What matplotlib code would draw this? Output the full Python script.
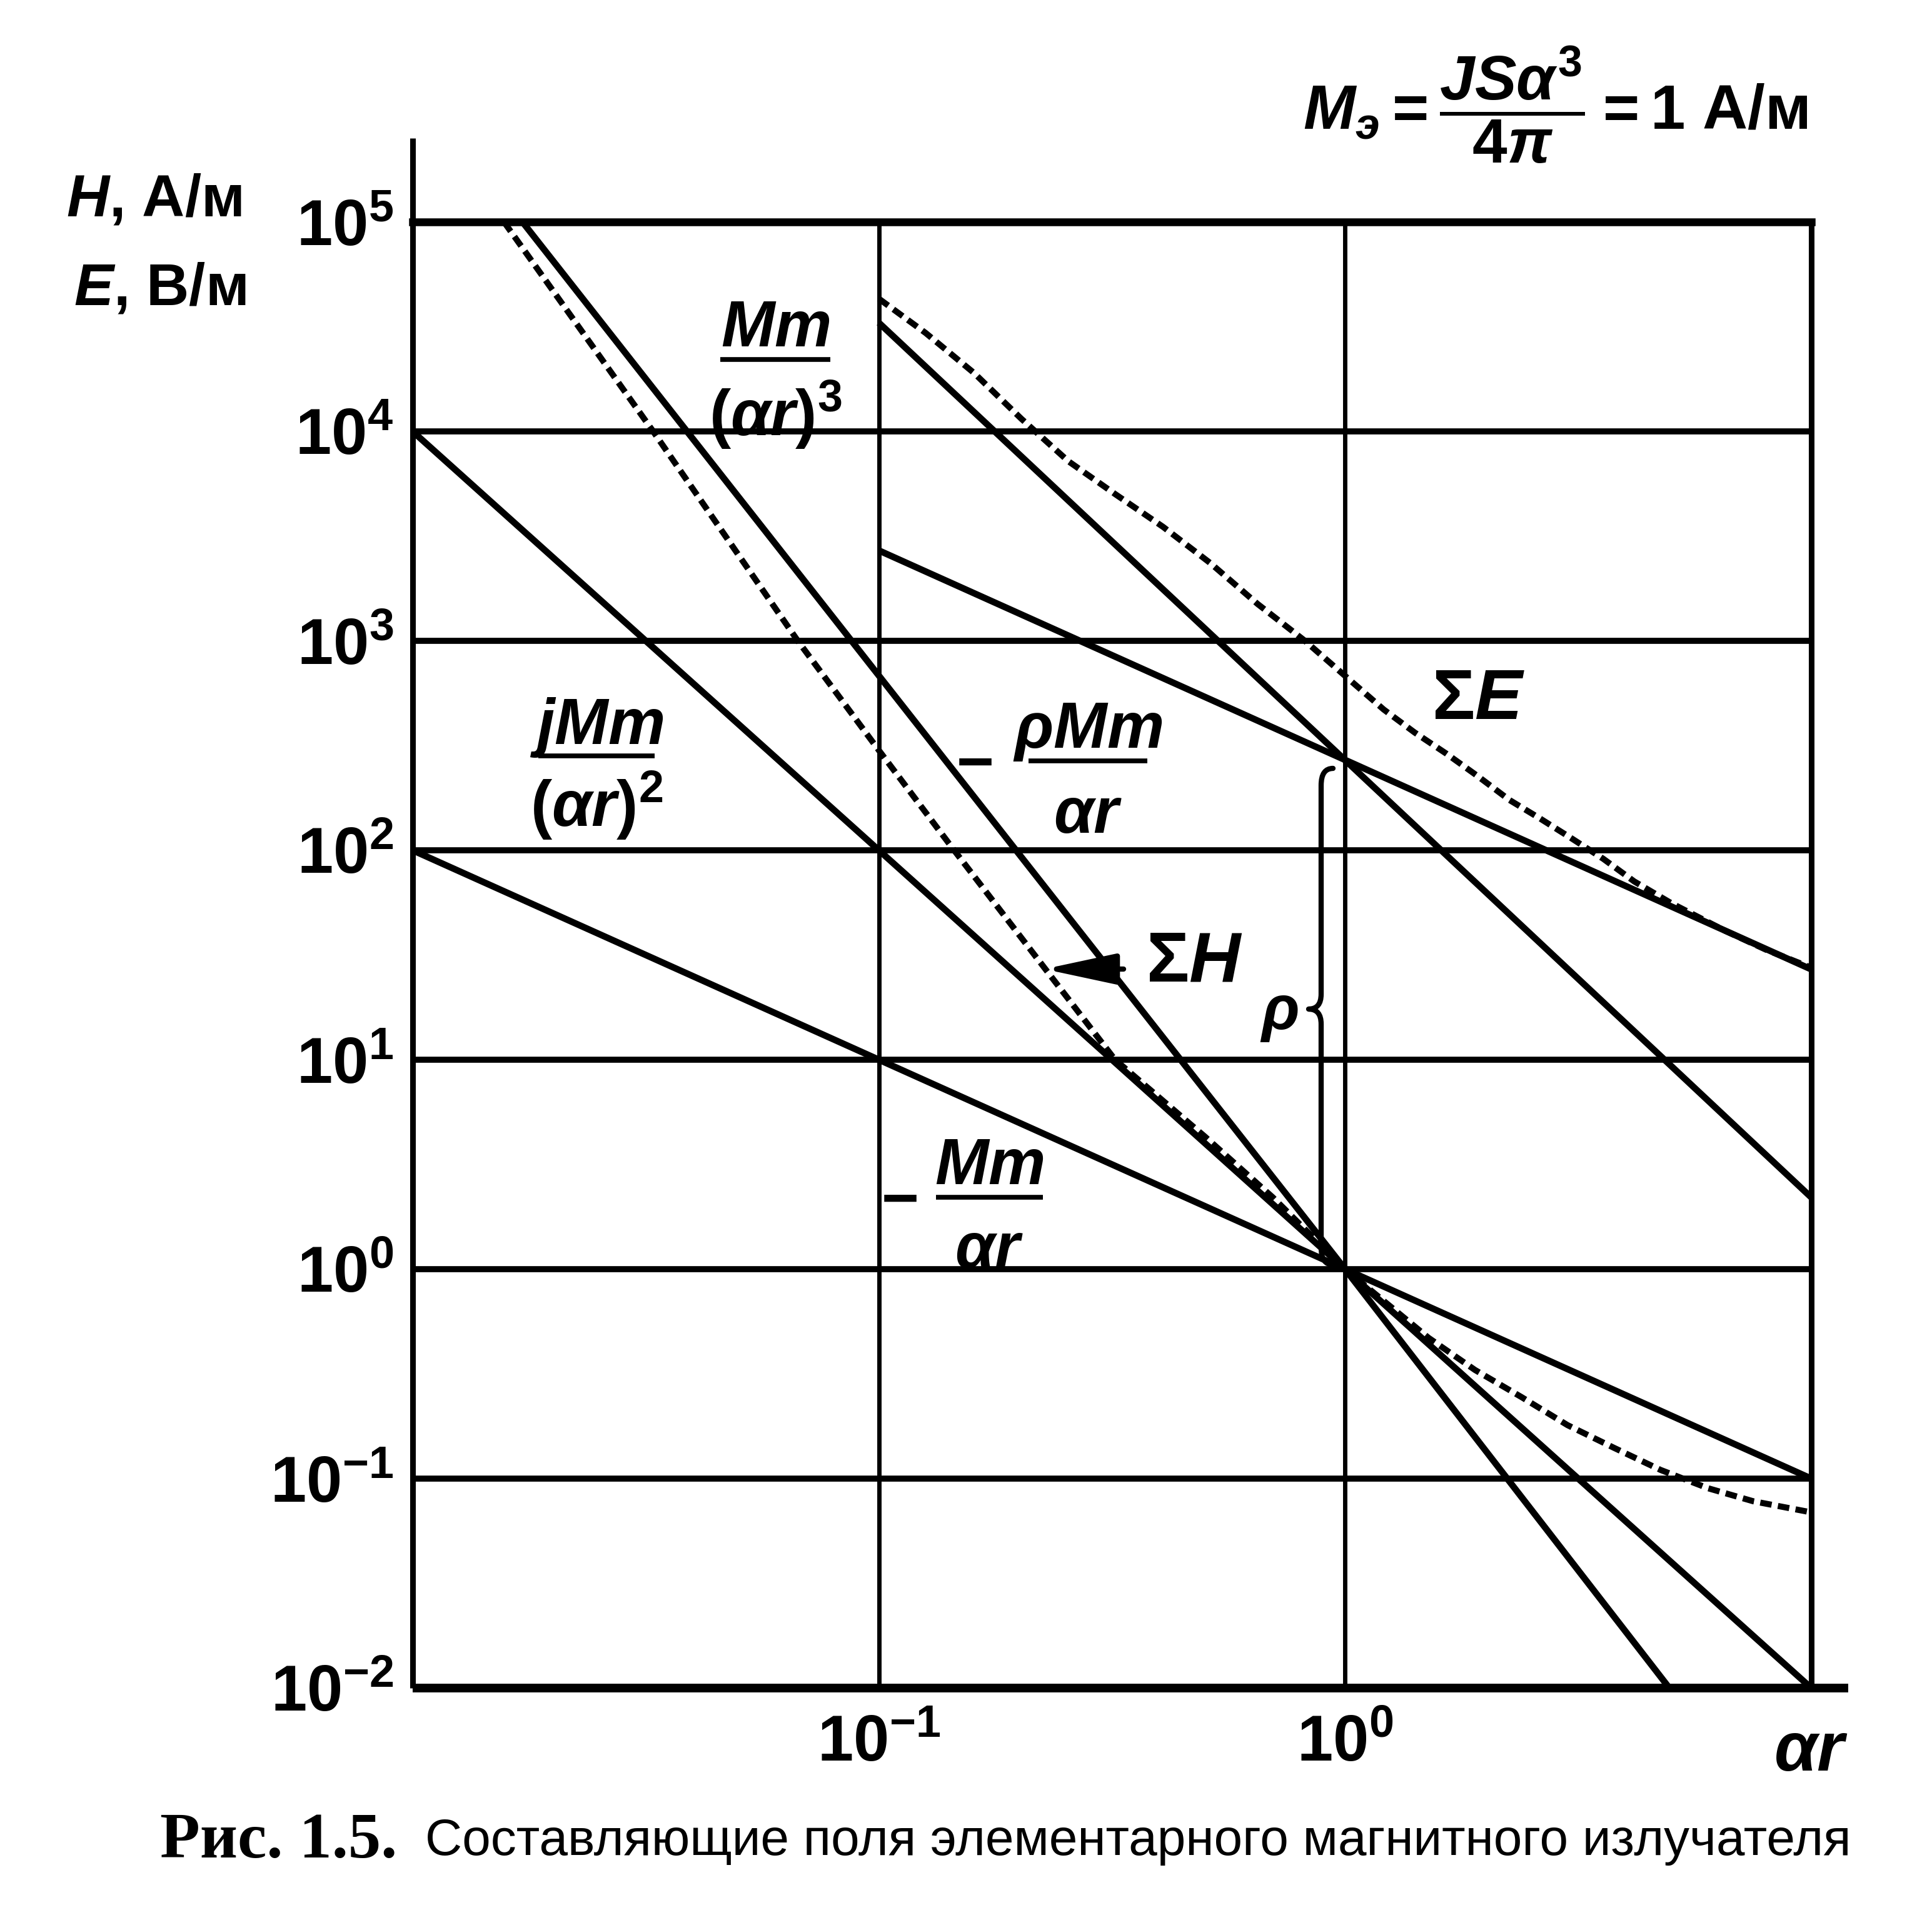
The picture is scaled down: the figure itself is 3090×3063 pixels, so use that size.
import matplotlib
matplotlib.use("Agg")
import matplotlib.pyplot as plt
from matplotlib import font_manager
from matplotlib.transforms import Affine2D
from matplotlib.lines import Line2D
from matplotlib.path import Path
from matplotlib.patches import PathPatch

# ---------------- data ----------------
X_LIMITS = [0.01, 10]
Y_LIMITS = [0.01, 1e5]
X_TICKS = [0.1, 1]
X_TICK_LABELS = [r"$10^{-1}$", r"$10^{0}$"]
Y_TICKS = [1e-2, 1e-1, 1e0, 1e1, 1e2, 1e3, 1e4, 1e5]
Y_TICK_LABELS = [r"$10^{-2}$", r"$10^{-1}$", r"$10^{0}$", r"$10^{1}$",
                 r"$10^{2}$", r"$10^{3}$", r"$10^{4}$", r"$10^{5}$"]

# magnetic field components
H1_X = [0.01, 10]            # -Mm/(ar)
H1_Y = [100, 0.1]
H2_X = [0.01, 10]            # jMm/(ar)^2
H2_Y = [1e4, 0.01]
H3_X = [0.0172, 1, 4.96]     # Mm/(ar)^3
H3_Y = [1e5, 1, 0.01]
SUMH_X = [0.0157, 0.0328, 0.067, 0.1, 0.145, 0.321, 0.5, 0.7, 1.0,
          1.51, 1.90, 2.39, 3.0, 3.78, 4.75, 6.0, 7.5, 10]
SUMH_Y = [1e5, 1e4, 1e3, 300, 100, 10, 4.3, 2.2, 1.0,
          0.47, 0.33, 0.245, 0.18, 0.14, 0.11, 0.09, 0.078, 0.069]

# electric field components
E1_X = [0.1, 10]             # -rho Mm/(ar)
E1_Y = [2700, 27]
E2_X = [0.1, 10]             # rho Mm/(ar)^2
E2_Y = [3.3e4, 2.2]
SUME_X = [0.1, 0.126, 0.160, 0.202, 0.255, 0.322, 0.407, 0.514, 0.649, 0.82,
          1.0, 1.21, 1.41, 1.65, 1.93, 2.25, 2.63, 3.06, 3.58, 4.17, 5.0,
          6.5, 8.0, 10]
SUME_Y = [4.3e4, 2.95e4, 1.9e4, 1.15e4, 7.2e3, 5.0e3, 3.5e3, 2.35e3, 1.5e3,
          1.0e3, 680, 470, 365, 289, 225, 174, 141, 114, 91, 71, 56,
          41.5, 33.5, 27.5]

# ---------------- fonts ----------------
names = {f.name for f in font_manager.fontManager.ttflist}
if "Liberation Sans Narrow" in names:
    FONT = "Liberation Sans Narrow"
elif "Liberation Sans" in names:
    FONT = "Liberation Sans"
else:
    FONT = "DejaVu Sans"

plt.rcParams["font.family"] = [FONT, "DejaVu Sans"]
plt.rcParams["font.weight"] = "bold"
plt.rcParams["mathtext.fontset"] = "custom"
plt.rcParams["mathtext.rm"] = f"{FONT}:bold"
plt.rcParams["mathtext.it"] = f"{FONT}:italic:bold"
plt.rcParams["mathtext.bf"] = f"{FONT}:bold"
plt.rcParams["mathtext.sf"] = f"{FONT}:bold"

W, H = 3090, 3063
fig = plt.figure(figsize=(W / 100, H / 100), dpi=100)
# pixel coordinates measured from the top-left corner of the image
PX = Affine2D().scale(1 / W, -1 / H).translate(0, 1) + fig.transFigure

L, R, T, B = 660, 2897, 355, 2700
ax = fig.add_axes([L / W, 1 - B / H, (R - L) / W, (B - T) / H])
ax.set_xscale("log")
ax.set_yscale("log")
ax.set_xlim(*X_LIMITS)
ax.set_ylim(*Y_LIMITS)
ax.minorticks_off()
ax.set_xticks(X_TICKS)
ax.set_xticklabels(X_TICK_LABELS)
ax.set_yticks(Y_TICKS)
ax.set_yticklabels(Y_TICK_LABELS)
ax.tick_params(axis="both", length=0, labelsize=74)
ax.tick_params(axis="x", pad=30)
ax.tick_params(axis="y", pad=22)
for s in ax.spines.values():
    s.set_visible(False)
ax.set_axisbelow(True)
ax.xaxis.grid(True, color="k", lw=5.0)
ax.yaxis.grid(True, color="k", lw=7.0)

# frame (left spine extended upward, bottom extended to the right)
ax.plot([X_LIMITS[0], X_LIMITS[0]], [Y_LIMITS[0], 10 ** 5.4], color="k",
        lw=6.5, clip_on=False, solid_capstyle="butt")
ax.plot([X_LIMITS[0], 12], [Y_LIMITS[0], Y_LIMITS[0]], color="k",
        lw=10, clip_on=False, solid_capstyle="butt")
ax.plot([X_LIMITS[0], X_LIMITS[1]], [Y_LIMITS[1], Y_LIMITS[1]], color="k",
        lw=9, clip_on=False, solid_capstyle="projecting")
ax.plot([X_LIMITS[1], X_LIMITS[1]], [Y_LIMITS[0], Y_LIMITS[1]], color="k",
        lw=6.5, clip_on=False, solid_capstyle="projecting")

solid = dict(color="k", lw=7.5, solid_capstyle="butt", zorder=3)
dashed = dict(color="k", lw=7, ls=(0, (1.9, 1.05)), dash_capstyle="butt", zorder=3)
ax.plot(H1_X, H1_Y, **solid)
ax.plot(H2_X, H2_Y, **solid)
ax.plot(H3_X, H3_Y, **solid)
ax.plot(SUMH_X, SUMH_Y, **dashed)
ax.plot(E1_X, E1_Y, **solid)
ax.plot(E2_X, E2_Y, **solid)
ax.plot(SUME_X, SUME_Y, **dashed)

# ---------------- curve labels (built as stacked fractions) ----------------
LBL = 74


def frac(cx, cy, num, den, width, num_gap, den_gap, minus=None):
    fig.text(cx, cy - num_gap, num, transform=PX, ha="center", va="baseline",
             fontsize=LBL)
    fig.text(cx, cy + den_gap, den, transform=PX, ha="center", va="top",
             fontsize=LBL)
    fig.add_artist(Line2D([cx - width / 2, cx + width / 2], [cy, cy],
                          transform=PX, color="k", lw=5.5,
                          solid_capstyle="butt"))
    if minus is not None:
        fig.text(minus[0], minus[1], "\u2212", transform=PX, ha="center",
                 va="center", fontsize=LBL)


frac(1240, 575, r"$Mm$", r"$(\alpha r)^{3}$", 176, 21, 30)
frac(954, 1209, r"$jMm$", r"$(\alpha r)^{2}$", 186, 19, 22)
frac(1740, 1217, r"$\rho Mm$", r"$\alpha r$", 190, 21, 40, minus=(1560, 1226))
frac(1582, 1915, r"$Mm$", r"$\alpha r$", 171, 21, 38, minus=(1440, 1924))

fig.text(1833, 1540, r"$\Sigma H$", transform=PX, ha="left", va="center", fontsize=82)
fig.text(2290, 1121, r"$\Sigma E$", transform=PX, ha="left", va="center", fontsize=82)
fig.text(2046, 1622, r"$\rho$", transform=PX, ha="center", va="center", fontsize=72)

# arrow to the Sum H curve
ax.annotate("", xy=(1670, 1550), xycoords=PX, xytext=(1797, 1550),
            textcoords=PX,
            arrowprops=dict(arrowstyle="-|>,head_length=1.4,head_width=0.3",
                            color="k", lw=6, mutation_scale=50,
                            shrinkA=0, shrinkB=0), zorder=4)

# brace marking rho at ar = 1
bv = [(2132, 1229), (2113, 1229), (2113, 1256), (2113, 1590),
      (2113, 1614), (2093, 1614), (2113, 1614), (2113, 1638),
      (2113, 1995), (2113, 2023), (2132, 2023)]
bc = [Path.MOVETO, Path.CURVE3, Path.CURVE3, Path.LINETO,
      Path.CURVE3, Path.CURVE3, Path.CURVE3, Path.CURVE3,
      Path.LINETO, Path.CURVE3, Path.CURVE3]
fig.add_artist(PathPatch(Path(bv, bc), transform=PX, fill=False,
                         edgecolor="k", lw=6, capstyle="round",
                         joinstyle="round"))

# axis labels
fig.text(246, 321, r"$H$, А/м", transform=PX, ha="center", va="center", fontsize=68)
fig.text(256, 463, r"$E$, В/м", transform=PX, ha="center", va="center", fontsize=68)
fig.text(2897, 2803, r"$\alpha r$", transform=PX, ha="center", va="center", fontsize=80)

# formula at top right
fig.text(2488, 168, r"$M_{э} = \dfrac{JS\alpha^{3}}{4\pi} = 1$ А/м",
         transform=PX, ha="center", va="center", fontsize=72)

# caption
cy = 2946
t1 = fig.text(256, cy, "Рис. 1.5.", transform=PX, ha="left", va="center",
              family="Liberation Serif", weight="bold", fontsize=50)
t2 = fig.text(680, cy, "Составляющие поля элементарного магнитного излучателя",
              transform=PX, ha="left", va="center", family=[FONT, "DejaVu Sans"],
              weight="normal", fontsize=50)
r = fig.canvas.get_renderer()
w1 = t1.get_window_extent(r).width
t1.set_fontsize(50 * (635 - 256) / w1)
w2 = t2.get_window_extent(r).width
t2.set_fontsize(50 * (2966 - 680) / w2)

fig.savefig("out.png", dpi=100, facecolor="white")
